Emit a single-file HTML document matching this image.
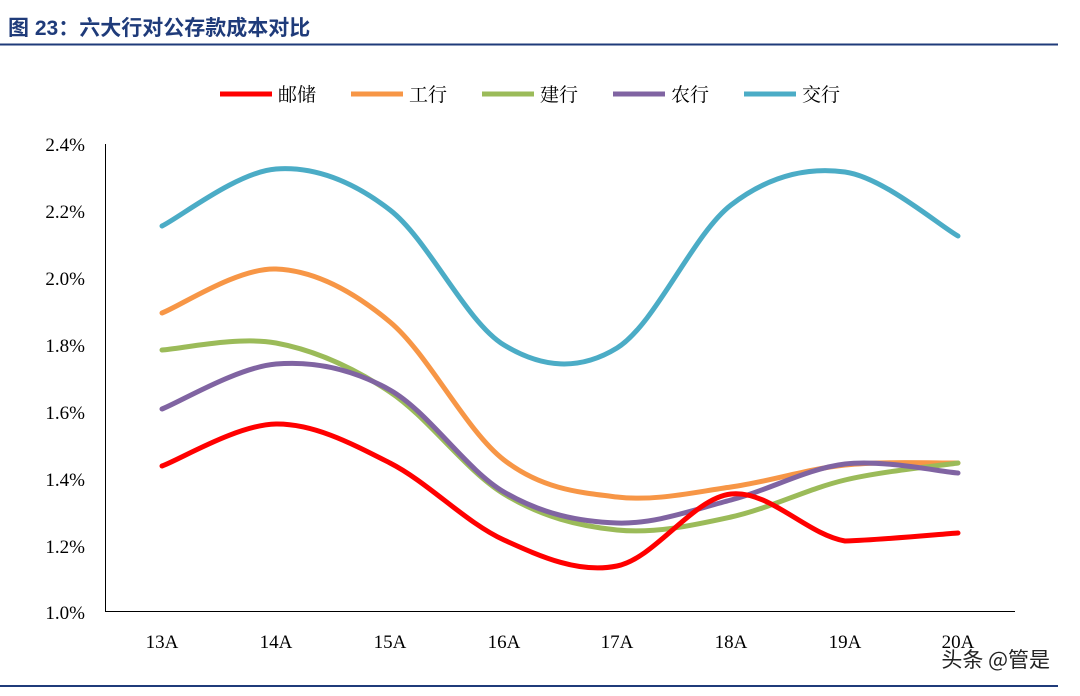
<!DOCTYPE html>
<html><head><meta charset="utf-8"><style>
body{margin:0;width:1080px;height:691px;background:#fff;overflow:hidden;font-family:"Liberation Serif","Noto Serif CJK SC",serif;}
</style></head><body>
<svg width="1080" height="691" xmlns="http://www.w3.org/2000/svg">
<text x="8" y="35" font-family="Liberation Sans,'Noto Sans CJK SC',sans-serif" font-weight="bold" font-size="21" fill="#1f3b7a">图 23：六大行对公存款成本对比</text>
<line x1="0" y1="44.5" x2="1058" y2="44.5" stroke="#1f3b7a" stroke-width="2"/>
<line x1="0" y1="686" x2="1058" y2="686" stroke="#1f3b7a" stroke-width="2"/>
<g font-family="'Noto Serif CJK SC',serif" font-size="19" fill="#000">
<line x1="220" y1="94" x2="272" y2="94" stroke="#f00" stroke-width="5"/><text x="278" y="101">邮储</text>
<line x1="351" y1="94" x2="403" y2="94" stroke="#f79646" stroke-width="5"/><text x="409" y="101">工行</text>
<line x1="482" y1="94" x2="534" y2="94" stroke="#9bbb59" stroke-width="5"/><text x="540" y="101">建行</text>
<line x1="613" y1="94" x2="665" y2="94" stroke="#8064a2" stroke-width="5"/><text x="671" y="101">农行</text>
<line x1="744" y1="94" x2="796" y2="94" stroke="#4bacc6" stroke-width="5"/><text x="802" y="101">交行</text>
</g>
<line x1="105.5" y1="144" x2="105.5" y2="612" stroke="#000" stroke-width="1"/>
<line x1="105" y1="611.5" x2="1015" y2="611.5" stroke="#000" stroke-width="1"/>
<g font-size="19" text-anchor="end">
<text x="85" y="151">2.4%</text><text x="85" y="218">2.2%</text><text x="85" y="285">2.0%</text>
<text x="85" y="352">1.8%</text><text x="85" y="419">1.6%</text><text x="85" y="486">1.4%</text>
<text x="85" y="553">1.2%</text><text x="85" y="619">1.0%</text>
</g>
<g font-size="19" text-anchor="middle">
<text x="162" y="648">13A</text><text x="276" y="648">14A</text><text x="390" y="648">15A</text><text x="504" y="648">16A</text>
<text x="617" y="648">17A</text><text x="731" y="648">18A</text><text x="845" y="648">19A</text><text x="958" y="648">20A</text>
</g>
<g fill="none" stroke-width="5" stroke-linecap="round">
<path stroke="#4bacc6" d="M162 226 C181 216.5 238 171.7 276 169 C314 166.3 352 180.7 390 210 C428 239.3 466 322 504 345 C542 368 579 371.3 617 348 C655 324.7 693 234.3 731 205 C769 175.7 807 166.8 845 172 C883 177.2 939 225.3 958 236"/>
<path stroke="#f79646" d="M162 313 C181 305.7 238 267.5 276 269 C314 270.5 352 290.2 390 322 C428 353.8 466 430.8 504 460 C542 489.2 579 492.5 617 497 C655 501.5 693 492.3 731 487 C769 481.7 807 469 845 465 C883 461 939 463.3 958 463"/>
<path stroke="#9bbb59" d="M162 350 C181 348.8 238 336 276 343 C314 350 352 366.8 390 392 C428 417.2 466 471 504 494 C542 517 579 526.2 617 530 C655 533.8 693 525.3 731 517 C769 508.7 807 489 845 480 C883 471 939 465.8 958 463"/>
<path stroke="#8064a2" d="M162 409 C181 401.5 238 367.2 276 364 C314 360.8 352 368.7 390 390 C428 411.3 466 469.8 504 492 C542 514.2 579 521.7 617 523 C655 524.3 693 509.8 731 500 C769 490.2 807 468.5 845 464 C883 459.5 939 471.5 958 473"/>
<path stroke="#f00" d="M162 466 C181 459 238 424.5 276 424 C314 423.5 352 443.7 390 463 C428 482.3 466 522.8 504 540 C542 557.2 579 573.7 617 566 C655 558.3 693 498.2 731 494 C769 489.8 807 534.5 845 541 C883 539.7 939 534.3 958 533"/>
</g>
<text x="1050" y="667" text-anchor="end" font-family="'Noto Sans CJK SC',sans-serif" font-size="21" fill="#222">头条 @管是</text>
</svg>
</body></html>
